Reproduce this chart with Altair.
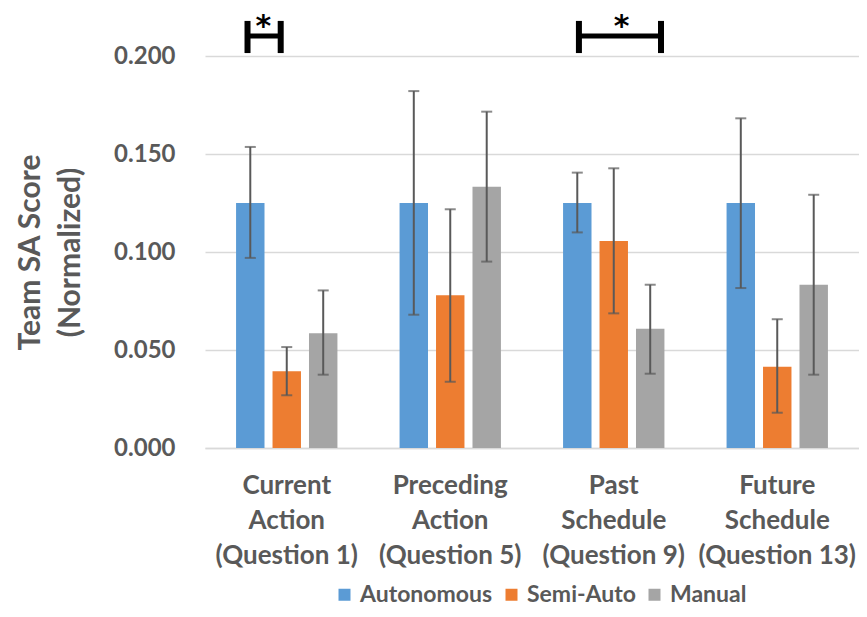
import altair as alt
import pandas as pd

categories = ["Current|Action|(Question 1)", "Preceding|Action|(Question 5)",
              "Past|Schedule|(Question 9)", "Future|Schedule|(Question 13)"]
series = ["Autonomous", "Semi-Auto", "Manual"]
colors = ["#5B9BD5", "#ED7D31", "#A5A5A5"]

autonomous = [0.125, 0.125, 0.125, 0.125]
autonomous_lo = [0.097, 0.068, 0.110, 0.0816]
autonomous_hi = [0.1536, 0.1821, 0.1405, 0.1682]
semi_auto = [0.0391, 0.0779, 0.1056, 0.0415]
semi_auto_lo = [0.0269, 0.0338, 0.0687, 0.018]
semi_auto_hi = [0.0515, 0.1218, 0.1427, 0.0657]
manual = [0.0585, 0.1333, 0.0609, 0.0833]
manual_lo = [0.0374, 0.0951, 0.0379, 0.0374]
manual_hi = [0.0804, 0.1716, 0.0833, 0.1292]

# significance brackets (x in category units: 0..4 across the plot)
bracket_left = [0.260, 2.287]
bracket_right = [0.463, 2.789]
bracket_bar_y = 0.2102
bracket_lo = 0.2015
bracket_hi = 0.2179
star_x = [0.357, 2.548]
star_y = 0.2104

rows = []
for s, vals, lo, hi in [("Autonomous", autonomous, autonomous_lo, autonomous_hi),
                        ("Semi-Auto", semi_auto, semi_auto_lo, semi_auto_hi),
                        ("Manual", manual, manual_lo, manual_hi)]:
    for c, v, l, h in zip(categories, vals, lo, hi):
        rows.append({"cat": c, "series": s, "value": v, "lo": l, "hi": h})
df = pd.DataFrame(rows)

FONT = "Lato"
GRAY = "#595959"

x_enc = alt.X("cat:N", sort=categories,
              scale=alt.Scale(paddingInner=0.38, paddingOuter=0.19),
              axis=alt.Axis(title=None, labelAngle=0, labelFont=FONT, labelFontSize=26,
                            labelFontWeight="bold", labelColor=GRAY, labelLineHeight=35,
                            labelPadding=24, ticks=False, domainColor="#D9D9D9",
                            domainWidth=1.5, labelExpr="split(datum.label, '|')"))
xo_enc = alt.XOffset("series:N", sort=series,
                     scale=alt.Scale(paddingInner=0.22, paddingOuter=0))
y_scale = alt.Scale(domain=[0, 0.2])

bars = alt.Chart(df).mark_bar().encode(
    x=x_enc, xOffset=xo_enc,
    y=alt.Y("value:Q", scale=y_scale,
            axis=alt.Axis(values=[0, 0.05, 0.1, 0.15, 0.2], format=".3f",
                          title=["Team SA Score", "(Normalized)"],
                          titleFont=FONT, titleFontSize=30, titleFontWeight="bold",
                          titleColor=GRAY, titleLineHeight=40, titlePadding=28,
                          labelFont=FONT, labelFontSize=24, labelFontWeight="bold",
                          labelColor=GRAY, labelPadding=30, ticks=False, domain=False,
                          gridColor="#D9D9D9", gridWidth=1.5)),
    color=alt.Color("series:N", sort=series,
                    scale=alt.Scale(domain=series, range=colors),
                    legend=alt.Legend(title=None, orient="none", direction="horizontal",
                                      legendX=128, legendY=527,
                                      symbolType="square", symbolSize=144,
                                      symbolStrokeWidth=0, labelFont=FONT,
                                      labelFontSize=23, labelFontWeight="bold",
                                      labelColor=GRAY, columnPadding=7,
                                      labelOffset=4)),
)

err = alt.Chart(df).mark_rule(color=GRAY, strokeWidth=2).encode(
    x=alt.X("cat:N", sort=categories), xOffset=alt.XOffset("series:N", sort=series),
    y=alt.Y("lo:Q", scale=y_scale), y2="hi:Q")
cap_lo = alt.Chart(df).mark_tick(color=GRAY, thickness=2, size=11, orient="horizontal").encode(
    x=alt.X("cat:N", sort=categories), xOffset=alt.XOffset("series:N", sort=series),
    y=alt.Y("lo:Q", scale=y_scale))
cap_hi = alt.Chart(df).mark_tick(color=GRAY, thickness=2, size=11, orient="horizontal").encode(
    x=alt.X("cat:N", sort=categories), xOffset=alt.XOffset("series:N", sort=series),
    y=alt.Y("hi:Q", scale=y_scale))

main = alt.layer(bars, err, cap_lo, cap_hi)

bdf = pd.DataFrame({"l": bracket_left, "r": bracket_right, "sx": star_x})
bx = alt.Scale(domain=[0, 4])
hline = alt.Chart(bdf).mark_rule(color="black", strokeWidth=5).encode(
    x=alt.X("l:Q", scale=bx, axis=None), x2="r:Q",
    y=alt.Y("yb:Q", scale=y_scale)).transform_calculate(yb=str(bracket_bar_y))
vleft = alt.Chart(bdf).mark_rule(color="black", strokeWidth=6).encode(
    x=alt.X("l:Q", scale=bx, axis=None),
    y=alt.Y("y1:Q", scale=y_scale), y2="y2:Q").transform_calculate(
    y1=str(bracket_lo), y2=str(bracket_hi))
vright = alt.Chart(bdf).mark_rule(color="black", strokeWidth=6).encode(
    x=alt.X("r:Q", scale=bx, axis=None),
    y=alt.Y("y1:Q", scale=y_scale), y2="y2:Q").transform_calculate(
    y1=str(bracket_lo), y2=str(bracket_hi))
stars = alt.Chart(bdf).mark_text(text="*", font="DejaVu Sans", fontSize=30, fontWeight="bold",
                                 color="black", baseline="alphabetic").encode(
    x=alt.X("sx:Q", scale=bx, axis=None),
    y=alt.Y("ys:Q", scale=y_scale)).transform_calculate(ys=str(star_y))
brackets = alt.layer(hline, vleft, vright, stars)

chart = alt.layer(main, brackets).resolve_scale(x="independent").properties(
    width=654, height=392,
    autosize=alt.AutoSizeParams(type="none"),
    padding={"left": 197, "top": 48, "right": 0, "bottom": 161},
).configure_view(stroke=None)

chart.save("out.html", embed_options={"renderer": "svg", "actions": False})
